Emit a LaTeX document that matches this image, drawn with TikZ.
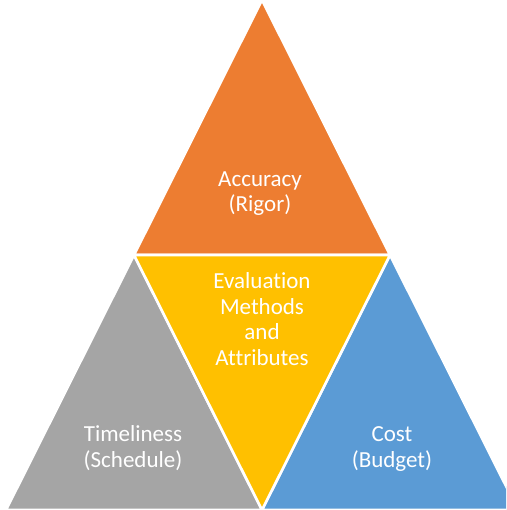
\documentclass[tikz,border=0pt]{standalone}
\usepackage{fontspec}
\setmainfont[Ligatures={NoCommon}]{Carlito}
\definecolor{accorange}{HTML}{ED7D31}
\definecolor{accgray}{HTML}{A5A5A5}
\definecolor{accyellow}{HTML}{FFC000}
\definecolor{accblue}{HTML}{5B9BD5}
\begin{document}
\begin{tikzpicture}[x=1pt,y=-1pt,
  tri/.style={draw=white,line width=2.6pt,line join=miter},
  lbl/.style={text=white,align=center,inner sep=0pt,anchor=base,
    font=\fontsize{23}{25.5}\selectfont}]
\useasboundingbox (0,0) rectangle (506,510);
\clip (0,0) rectangle (506,510);
\coordinate (T) at (262,0);
\coordinate (L) at (134,255);
\coordinate (R) at (390,255);
\coordinate (BL) at (6,510);
\coordinate (BM) at (262,510);
\coordinate (BR) at (518,510);
\fill[accorange] (T) -- (L) -- (R) -- cycle;
\draw[tri] (T) -- (L) -- (R) -- cycle;
\fill[accgray] (L) -- (BL) -- (BM) -- cycle;
\draw[tri] (L) -- (BL) -- (BM) -- cycle;
\fill[accblue] (R) -- (BM) -- (BR) -- cycle;
\draw[tri] (R) -- (BM) -- (BR) -- cycle;
\fill[accyellow] (L) -- (R) -- (BM) -- cycle;
\draw[tri] (L) -- (R) -- (BM) -- cycle;
\node[lbl] (acc) at (260,212) {Accuracy\\(Rigor)};
\node[lbl] (eval) at (262,365) {Evaluation\\Methods\\and\\Attributes};
\node[lbl] (time) at (133,467) {Timeliness\\(Schedule)};
\node[lbl] (cost) at (392,467) {Cost\\(Budget)};
\end{tikzpicture}
\end{document}
